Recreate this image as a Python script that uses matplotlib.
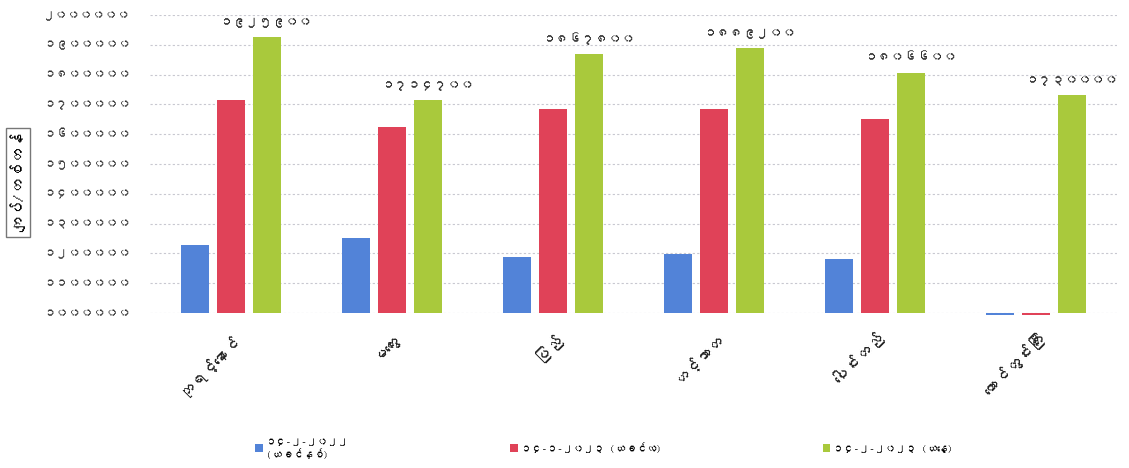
import numpy as np
import matplotlib
matplotlib.use('Agg')
import matplotlib.pyplot as plt
from matplotlib import font_manager
from matplotlib.ft2font import FT2Font

# Data (kyat per ton)
categories = ['ဘုရင့်နောင်', 'မကွေး', 'ပြည်', 'ဟင်္သာတ', 'ပေါင်းတည်', 'တောင်တွင်းကြီး']
series_names = ['၁၄-၂-၂၀၂၂\n(ယခင်နှစ်)', '၁၄-၁-၂၀၂၃ (ယခင်လ)', '၁၄-၂-၂၀၂၃ (ယနေ့)']
prev_year = [1230000, 1252000, 1188000, 1198000, 1183000, 0]
prev_month = [1714000, 1624000, 1685000, 1686000, 1652000, 0]
today = [1925900, 1714700, 1867800, 1889200, 1806600, 1730000]
today_labels = ['၁၉၂၅၉၀၀', '၁၇၁၄၇၀၀', '၁၈၆၇၈၀၀', '၁၈၈၉၂၀၀', '၁၈၀၆၆၀၀', '၁၇၃၀၀၀၀']
y_ticks = np.arange(1000000, 2000001, 100000)
y_tick_labels = ['၁၀၀၀၀၀၀', '၁၁၀၀၀၀၀', '၁၂၀၀၀၀၀', '၁၃၀၀၀၀၀', '၁၄၀၀၀၀၀', '၁၅၀၀၀၀၀',
                 '၁၆၀၀၀၀၀', '၁၇၀၀၀၀၀', '၁၈၀၀၀၀၀', '၁၉၀၀၀၀၀', '၂၀၀၀၀၀၀']
y_title = 'ကျပ်/တစ်တန်'
colors = ['#5283d8', '#e04258', '#a9c93c']


# look for any installed font that has Myanmar glyphs
def find_font(ch):
    for f in font_manager.fontManager.ttflist:
        try:
            if ord(ch) in FT2Font(f.fname).get_charmap():
                return f.name
        except Exception:
            pass
    return None


mm_font = find_font('က')
families = ([mm_font] if mm_font else []) + ['DejaVu Sans']
plt.rcParams['font.family'] = families

fig = plt.figure(figsize=(11.29, 4.68), dpi=100)
ax = fig.add_axes([0.133, 0.331, 0.856, 0.637])

base = 1000000
x = np.arange(len(categories))
width = 0.174
step = 0.224
for i, vals in enumerate([prev_year, prev_month, today]):
    vals = np.array(vals, dtype=float)
    h = np.where(vals >= base, vals - base, -8000)  # below-axis values show as a thin dash
    ax.bar(x + (i - 1) * step, h, width, bottom=base, color=colors[i],
           label=series_names[i], clip_on=False, zorder=3)

for xi, v, lab in zip(x, today, today_labels):
    ax.text(xi + step, v + 30000, lab, ha='center', va='bottom', fontsize=9.5, color='#222222')

ax.set_xlim(-0.5, len(categories) - 0.5)
ax.set_ylim(base, 2000000)
ax.set_yticks(y_ticks)
ax.set_yticklabels(y_tick_labels, fontsize=9, color='#333333')
ax.set_xticks(x)
ax.set_xticklabels(categories, rotation=45, ha='right', rotation_mode='anchor',
                   fontsize=11.5, color='#222222')
ax.tick_params(axis='x', length=0, pad=12)
ax.tick_params(axis='y', length=0, pad=14)
ax.grid(axis='y', linestyle=(0, (2, 2)), color='#c8c8d0', linewidth=0.8, zorder=0)
for s in ax.spines.values():
    s.set_visible(False)

fig.text(0.016, 0.61, y_title, rotation=90, ha='center', va='center', fontsize=11,
         bbox=dict(boxstyle='square,pad=0.3', fc='white', ec='#777777', lw=1))

fig.legend(loc='lower center', bbox_to_anchor=(0.535, 0.0), ncol=3, frameon=False,
           fontsize=7.5, handlelength=0.7, handleheight=0.7, handletextpad=0.3,
           columnspacing=15.5)

fig.savefig('out.png', dpi=100, facecolor='white')
